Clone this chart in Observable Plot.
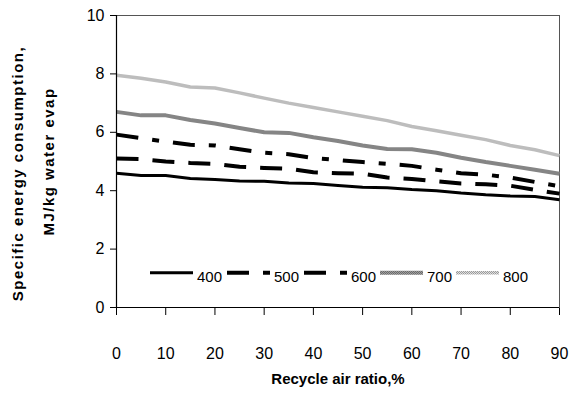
<!DOCTYPE html>
<html>
<head>
<meta charset="utf-8">
<script src="https://cdn.jsdelivr.net/npm/d3@7"></script>
<script src="https://cdn.jsdelivr.net/npm/@observablehq/plot@0.6"></script>
<style>
  html, body { margin: 0; padding: 0; background: #fff; }
  #chart svg { display: block; }
</style>
</head>
<body>
<div id="chart"></div>
<script>
// ---- data ----
const recycleRatio = [0, 5, 10, 15, 20, 25, 30, 35, 40, 45, 50, 55, 60, 65, 70, 75, 80, 85, 90];
const series400 = [4.60, 4.52, 4.52, 4.42, 4.38, 4.33, 4.32, 4.26, 4.25, 4.18, 4.12, 4.10, 4.04, 4.00, 3.92, 3.86, 3.82, 3.80, 3.69];
const series500 = [5.10, 5.08, 5.00, 4.95, 4.92, 4.82, 4.78, 4.75, 4.63, 4.60, 4.58, 4.45, 4.40, 4.32, 4.25, 4.22, 4.17, 4.03, 3.90];
const series600 = [5.92, 5.80, 5.68, 5.57, 5.55, 5.42, 5.30, 5.25, 5.12, 5.05, 4.98, 4.92, 4.85, 4.72, 4.60, 4.55, 4.45, 4.30, 4.15];
const series700 = [6.70, 6.58, 6.58, 6.42, 6.30, 6.15, 6.00, 5.98, 5.83, 5.70, 5.55, 5.43, 5.42, 5.30, 5.13, 4.98, 4.85, 4.72, 4.58];
const series800 = [7.95, 7.85, 7.72, 7.55, 7.52, 7.35, 7.17, 7.00, 6.85, 6.70, 6.55, 6.40, 6.20, 6.05, 5.90, 5.75, 5.55, 5.40, 5.20];
const seriesNames = ["400", "500", "600", "700", "800"];
const xTicks = [0, 10, 20, 30, 40, 50, 60, 70, 80, 90];
const yTicks = [0, 2, 4, 6, 8, 10];
const xTitle = "Recycle air ratio,%";
const yTitle1 = "Specific energy consumption,";
const yTitle2 = "MJ/kg water evap";

// ---- styles ----
const seriesValues = [series400, series500, series600, series700, series800];
const lineStyles = [
  {stroke: "#000", strokeWidth: 3, dash: null},
  {stroke: "#000", strokeWidth: 4, dash: "22,14"},
  {stroke: "#000", strokeWidth: 4, dash: "22,14,7,14"},
  {stroke: "url(#pat700)", strokeWidth: 4, dash: null},
  {stroke: "url(#pat800)", strokeWidth: 3.5, dash: null}
];

const W = 569, H = 394;
const mL = 116, mR = 10, mT = 15, mB = 87;

const lineMarks = seriesNames.map((name, k) => {
  const rows = recycleRatio.map((p, i) => ({pct: p, v: seriesValues[k][i], s: name}));
  const st = lineStyles[k];
  return Plot.line(rows, {
    x: "pct", y: "v",
    stroke: st.stroke,
    strokeWidth: st.strokeWidth,
    strokeDasharray: st.dash || undefined,
    strokeLinejoin: "round",
    strokeLinecap: "butt"
  });
});

const chart = Plot.plot({
  width: W, height: H,
  marginLeft: mL, marginRight: mR, marginTop: mT, marginBottom: mB,
  style: {fontFamily: "'Liberation Sans', Arial, sans-serif", fontSize: "16px", color: "#000", background: "#fff"},
  x: {domain: [0, 90], ticks: xTicks, tickSize: 8, tickPadding: 32, label: null, tickFormat: d => String(d)},
  y: {domain: [0, 10], ticks: yTicks, tickSize: 6, tickPadding: 6, label: null, tickFormat: d => String(d)},
  marks: [
    Plot.frame({stroke: "#555"}),
    ...lineMarks,
    Plot.ruleX([0], {stroke: "#000", strokeWidth: 1.2}),
    Plot.ruleY([0], {stroke: "#000", strokeWidth: 1.2}),
    Plot.text([xTitle], {frameAnchor: "bottom", dy: 76, fontWeight: "bold", fontSize: 15, fill: "#000"}),
    Plot.text([yTitle1], {frameAnchor: "left", textAnchor: "middle", dx: -98, dy: 12, rotate: -90, fontWeight: "bold", fontSize: 15, fill: "#000"}),
    Plot.text([yTitle2], {frameAnchor: "left", textAnchor: "middle", dx: -67, dy: 0, rotate: -90, fontWeight: "bold", fontSize: 15, fill: "#000"})
  ]
});

// letter spacing for y titles
d3.select(chart).selectAll("text").filter(function() {
  const t = this.textContent; return t === yTitle1 || t === yTitle2;
}).style("letter-spacing", "1.5px");

// ---- patterns for textured grey lines ----
const svg = d3.select(chart);
const defs = svg.insert("defs", ":first-child");
function checker(id, bg, fg) {
  const p = defs.append("pattern").attr("id", id).attr("patternUnits", "userSpaceOnUse")
    .attr("width", 2).attr("height", 2);
  p.append("rect").attr("width", 2).attr("height", 2).attr("fill", bg);
  p.append("rect").attr("x", 0).attr("y", 0).attr("width", 1).attr("height", 1).attr("fill", fg);
  p.append("rect").attr("x", 1).attr("y", 1).attr("width", 1).attr("height", 1).attr("fill", fg);
}
checker("pat700", "#a0a0a0", "#6a6a6a");
checker("pat800", "#e0e0e0", "#9a9a9a");

// ---- legend (inside plot area) ----
const legendX = [150, 227, 304, 380, 456];
const legendY = 272.7;
const sampleLen = 43;
const lg = svg.append("g").attr("font-family", "'Liberation Sans', Arial, sans-serif")
  .attr("font-size", 15).attr("text-anchor", "start");
seriesNames.forEach((name, k) => {
  const st = lineStyles[k];
  lg.append("line")
    .attr("x1", legendX[k]).attr("x2", legendX[k] + sampleLen)
    .attr("y1", legendY).attr("y2", legendY)
    .attr("stroke", st.stroke).attr("stroke-width", st.strokeWidth)
    .attr("stroke-dasharray", st.dash);
  lg.append("text")
    .attr("x", legendX[k] + sampleLen + 4).attr("y", legendY + 5)
    .attr("dominant-baseline", "middle").attr("text-anchor", "start").attr("fill", "#000")
    .text(name);
});

document.getElementById("chart").appendChild(chart);
</script>
</body>
</html>
